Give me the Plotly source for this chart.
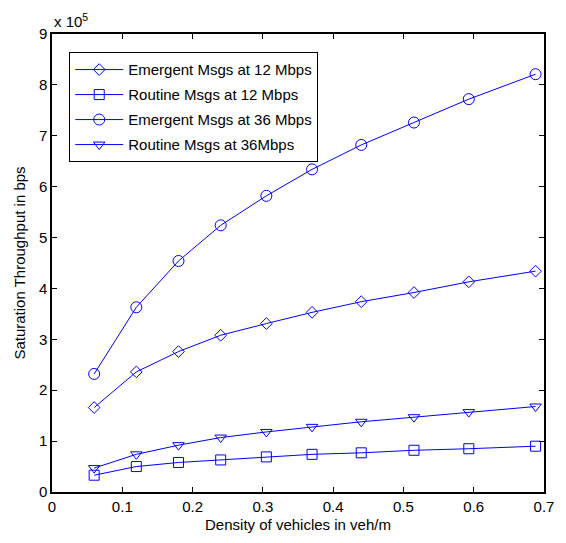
import plotly.graph_objects as go

density = [0.06, 0.12, 0.18, 0.24, 0.305, 0.37, 0.44, 0.515, 0.593, 0.688]

# throughput in units of 1e5 bps
emergent_12 = [1.66, 2.36, 2.76, 3.08, 3.31, 3.53, 3.74, 3.92, 4.13, 4.34]
routine_12 = [0.33, 0.50, 0.58, 0.63, 0.69, 0.74, 0.77, 0.82, 0.85, 0.90]
emergent_36 = [2.32, 3.63, 4.54, 5.24, 5.82, 6.34, 6.82, 7.26, 7.72, 8.21]
routine_36 = [0.47, 0.74, 0.92, 1.07, 1.18, 1.28, 1.38, 1.47, 1.57, 1.68]

series = [
    ("Emergent Msgs at 12 Mbps", emergent_12, "diamond-open", 9),
    ("Routine Msgs at 12 Mbps", routine_12, "square-open", 10),
    ("Emergent Msgs at 36 Mbps", emergent_36, "circle-open", 11),
    ("Routine Msgs at 36Mbps", routine_36, "triangle-down-open", 10),
]

x_ticks = [0, 0.1, 0.2, 0.3, 0.4, 0.5, 0.6, 0.7]
y_ticks = list(range(0, 10))

BLUE = "#0000ff"
FONT = "Liberation Sans, Arial, sans-serif"

fig = go.Figure()
for i, (name, vals, sym, sz) in enumerate(series):
    fig.add_trace(go.Scatter(
        x=density, y=vals, name=name, mode="lines+markers", legendgroup=f"g{i}",
        line=dict(color=BLUE, width=1),
        marker=dict(symbol=sym, size=sz, color=BLUE, line=dict(color=BLUE, width=1)),
    ))

axis_common = dict(
    showline=True, linecolor="black", linewidth=1.5, mirror="ticks",
    ticks="inside", ticklen=5, tickcolor="black", tickwidth=1,
    showgrid=False, zeroline=False,
    tickfont=dict(family=FONT, size=15, color="black"),
)

fig.update_layout(
    width=566, height=543,
    margin=dict(l=52, r=22, t=34, b=51),
    plot_bgcolor="white", paper_bgcolor="white",
    font=dict(family=FONT, size=15, color="black"),
    xaxis=dict(range=[0, 0.7], tickvals=x_ticks, ticktext=[f"{v:g}" for v in x_ticks],
               title=dict(text="Density of vehicles in veh/m", font=dict(size=15), standoff=6),
               **axis_common),
    yaxis=dict(range=[0, 9], tickvals=y_ticks, ticktext=[str(v) for v in y_ticks],
               title=dict(text="Saturation Throughput in bps", font=dict(size=15), standoff=10),
               **axis_common),
    legend=dict(x=0.035, y=0.96, xanchor="left", yanchor="top",
                bordercolor="black", borderwidth=1, bgcolor="white",
                font=dict(family=FONT, size=15), itemwidth=48, tracegroupgap=2.5),
    annotations=[dict(text="x 10<sup>5</sup>", xref="paper", yref="paper", x=0.0, y=1.0,
                      xanchor="left", yanchor="bottom", showarrow=False, yshift=2,
                      font=dict(family=FONT, size=15))],
)

fig.write_html("out.html")
